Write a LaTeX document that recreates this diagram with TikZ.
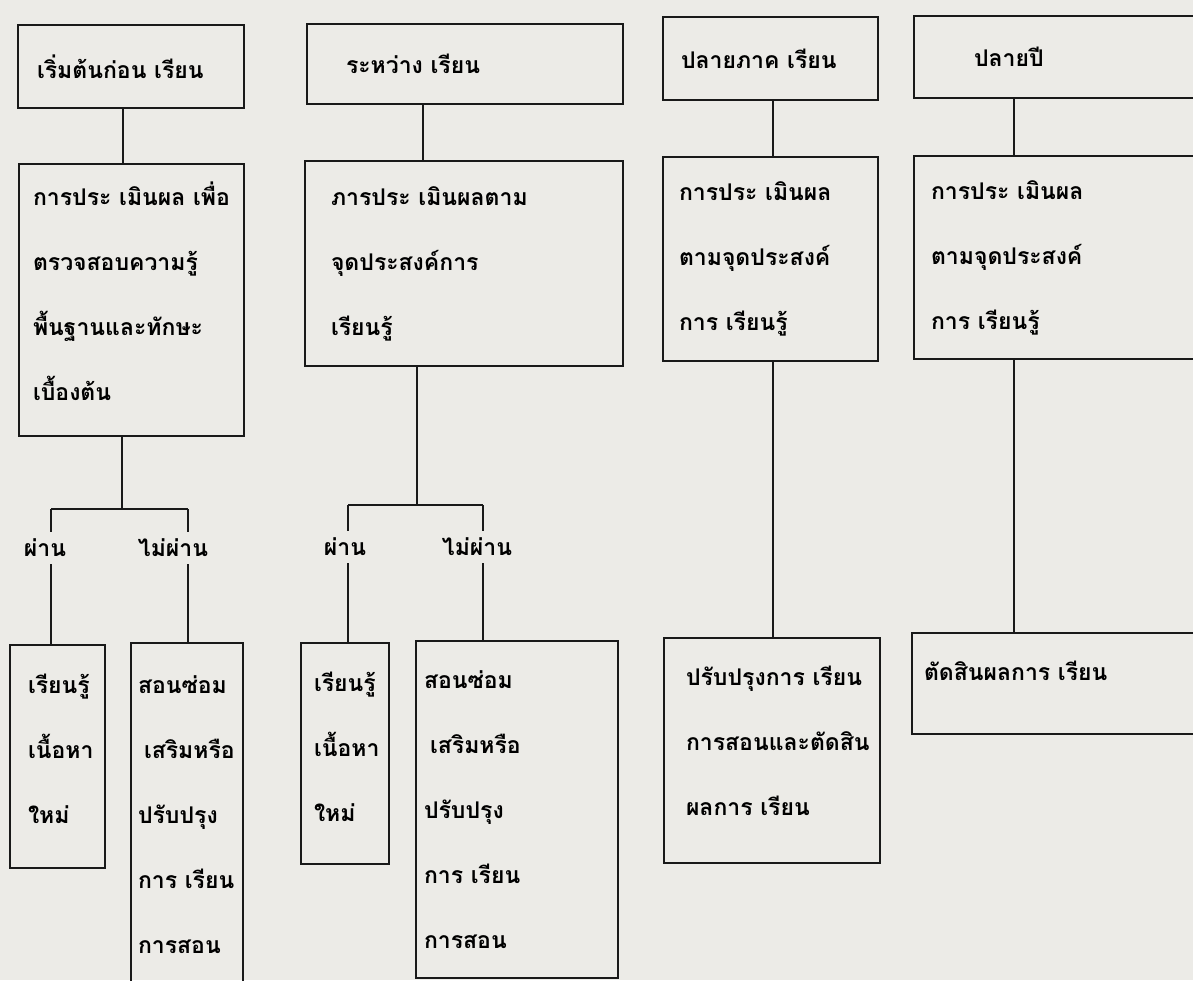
\documentclass[tikz,border=0pt]{standalone}
\usepackage{fontspec}
\newfontfamily\thaifont[Script=Thai]{Loma}
\usepackage{tikz}
\usetikzlibrary{positioning}
\definecolor{paper}{RGB}{236,235,231}
\definecolor{ink}{RGB}{25,25,25}
\tikzstyle{link} = [line width=2pt, color=ink]
% invisible strut that lifts the text block inside a box
\newcommand{\liftby}[1]{\rule[-#1]{0pt}{#1}}

\begin{document}
\begin{tikzpicture}[x=1pt, y=-1pt,
    stage/.style={rectangle, draw=ink, line width=2pt, anchor=north west, align=left, inner ysep=0pt, font=\thaifont\bfseries\fontsize{23}{65}\selectfont},
    verdict/.style={inner sep=0pt, minimum height=32pt, font=\thaifont\bfseries\fontsize{23}{30}\selectfont}]

\useasboundingbox (0,0) rectangle (1193,980);
\fill[paper] (0,0) rectangle (1193,980);

% Stages
\node[stage, minimum width=226pt, minimum height=83pt, text width=188pt, inner xsep=19pt] (top1) at (17,24) {เริ่มต้นก่อน~เรียน};
\node[stage, minimum width=316pt, minimum height=80pt, text width=238pt, inner xsep=39pt] (top2) at (306,23) {ระหว่าง~เรียน};
\node[stage, minimum width=215pt, minimum height=83pt, text width=179pt, inner xsep=18pt] (top3) at (662,16) {ปลายภาค~เรียน};
\node[stage, minimum width=287pt, minimum height=82pt, text width=167pt, inner xsep=60pt] (top4) at (913,15) {ปลายปี};

% Assessments
\node[stage, minimum width=225pt, minimum height=272pt, text width=197pt, inner xsep=14pt] (mid1) at (18,163) {การประ~เมินผล~เพื่อ\\ตรวจสอบความรู้\\พื้นฐานและทักษะ\\เบื้องต้น\liftby{18pt}};
\node[stage, minimum width=318pt, minimum height=205pt, text width=266pt, inner xsep=26pt] (mid2) at (304,160) {ภารประ~เมินผลตาม\\จุดประสงค์การ\\เรียนรู้};
\node[stage, minimum width=215pt, minimum height=204pt, text width=183pt, inner xsep=16pt] (mid3) at (662,156) {การประ~เมินผล\\ตามจุดประสงค์\\การ~เรียนรู้};
\node[stage, minimum width=287pt, minimum height=203pt, text width=253pt, inner xsep=17pt] (mid4) at (913,155) {การประ~เมินผล\\ตามจุดประสงค์\\การ~เรียนรู้};

% Follow-up
\node[stage, minimum width=95pt, minimum height=223pt, text width=59pt, inner xsep=18pt] (pass1) at (9,644) {เรียนรู้\\เนื้อหา\\ใหม่\liftby{16pt}};
\node[stage, minimum width=112pt, minimum height=343pt, text width=98pt, inner xsep=7pt] (fail1) at (130,642) {สอนซ่อม\\\hspace*{6pt}เสริมหรือ\\ปรับปรุง\\การ~เรียน\\การสอน};
\node[stage, minimum width=88pt, minimum height=221pt, text width=62pt, inner xsep=13pt] (pass2) at (300,642) {เรียนรู้\\เนื้อหา\\ใหม่\liftby{14pt}};
\node[stage, minimum width=202pt, minimum height=337pt, text width=186pt, inner xsep=8pt] (fail2) at (415,640) {สอนซ่อม\\\hspace*{6pt}เสริมหรือ\\ปรับปรุง\\การ~เรียน\\การสอน};
\node[stage, minimum width=216pt, minimum height=225pt, text width=172pt, inner xsep=22pt] (end3) at (663,637) {ปรับปรุงการ~เรียน\\การสอนและตัดสิน\\ผลการ~เรียน\liftby{20pt}};
\node[stage, minimum width=289pt, minimum height=101pt, text width=265pt, inner xsep=12pt] (end4) at (911,632) {ตัดสินผลการ~เรียน\liftby{26pt}};

% Pass / fail labels
\node[verdict] (ok1) at (45,548) {ผ่าน};
\node[verdict] (no1) at (173,548) {ไม่ผ่าน};
\node[verdict] (ok2) at (345,547) {ผ่าน};
\node[verdict] (no2) at (477,547) {ไม่ผ่าน};

% Column axes and branch points
\coordinate (a1) at (123,0);
\coordinate (a2) at (423,0);
\coordinate (a3) at (773,0);
\coordinate (a4) at (1014,0);
\coordinate (j1) at (122,509);
\coordinate (j2) at (417,505);
\coordinate (b1l) at (51,509);
\coordinate (b1r) at (188,509);
\coordinate (b2l) at (348,505);
\coordinate (b2r) at (483,505);

% Connect stages to assessments
\draw[link] (top1.south -| a1) -- (mid1.north -| a1);
\draw[link] (top2.south -| a2) -- (mid2.north -| a2);
\draw[link] (top3.south -| a3) -- (mid3.north -| a3);
\draw[link] (top4.south -| a4) -- (mid4.north -| a4);

% Branches
\draw[link] (mid1.south -| j1) -- (j1);
\draw[link] (b1l) -- (b1r);
\draw[link] (b1l) -- (b1l |- ok1.north);
\draw[link] (b1l |- ok1.south) -- (b1l |- pass1.north);
\draw[link] (b1r) -- (b1r |- no1.north);
\draw[link] (b1r |- no1.south) -- (b1r |- fail1.north);

\draw[link] (mid2.south -| j2) -- (j2);
\draw[link] (b2l) -- (b2r);
\draw[link] (b2l) -- (b2l |- ok2.north);
\draw[link] (b2l |- ok2.south) -- (b2l |- pass2.north);
\draw[link] (b2r) -- (b2r |- no2.north);
\draw[link] (b2r |- no2.south) -- (b2r |- fail2.north);

\draw[link] (mid3.south -| a3) -- (end3.north -| a3);
\draw[link] (mid4.south -| a4) -- (end4.north -| a4);

\end{tikzpicture}
\end{document}
